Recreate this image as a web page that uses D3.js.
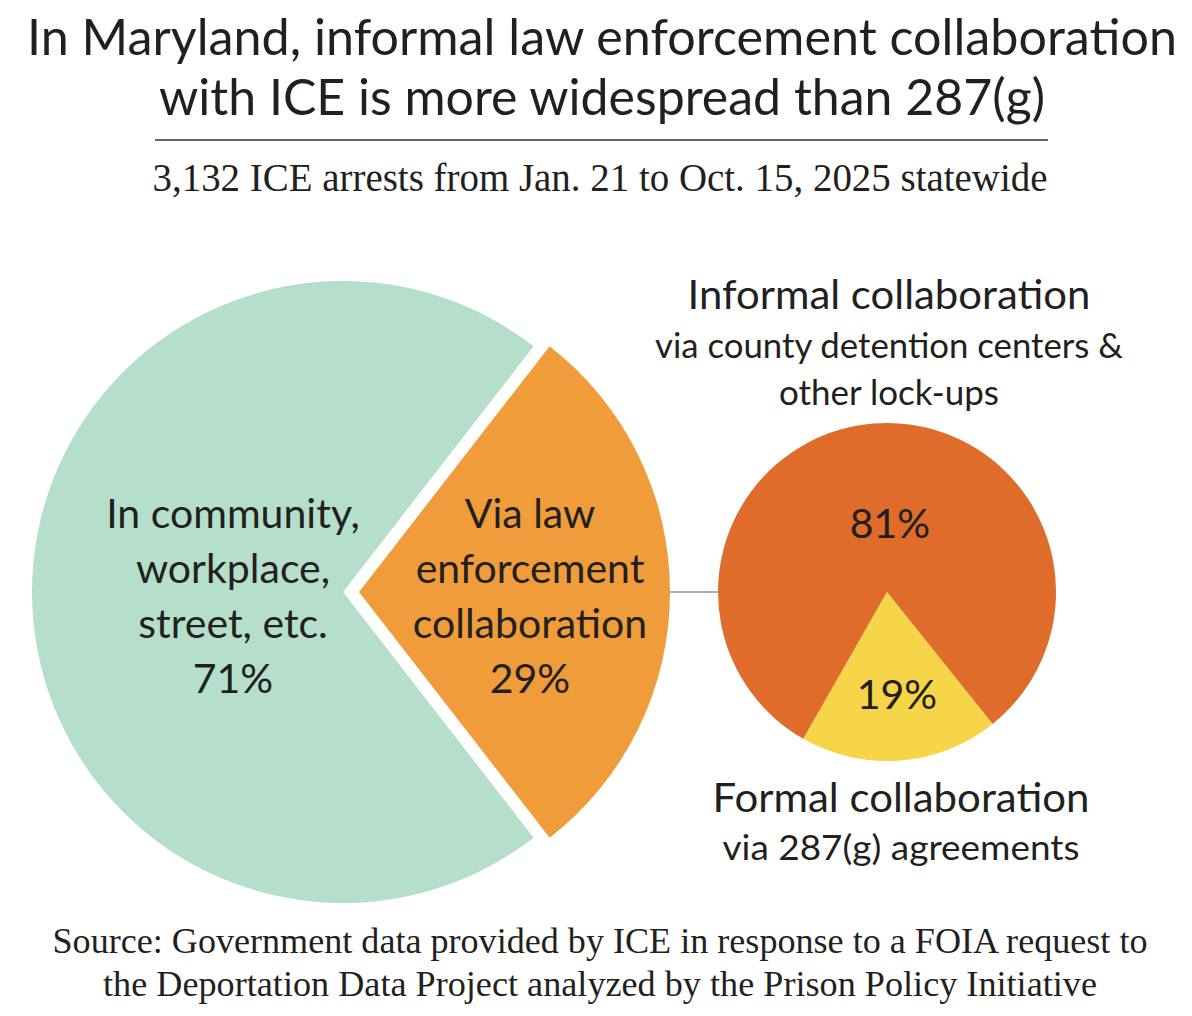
<!DOCTYPE html>
<html>
<head>
<meta charset="utf-8">
<script src="https://cdn.jsdelivr.net/npm/d3@7"></script>
<style>
  html, body { margin: 0; padding: 0; background: #fff; }
  svg { display: block; }
</style>
</head>
<body>
<div id="chart"></div>
<script>
// ---------------- data ----------------
var mainLabels = [
  ["Via law", "enforcement", "collaboration"],
  ["In community,", "workplace,", "street, etc."]
];
var mainKeys = ["law", "community"];
var mainShares = [29, 71];
var mainColors = ["#f09c3a", "#b5dfcb"];

var subKeys = ["formal", "informal"];
var subShares = [19, 81];
var subColors = ["#f6d548", "#e06c2b"];
var informalLines = ["Informal collaboration", "via county detention centers &", "other lock-ups"];
var formalLines = ["Formal collaboration", "via 287(g) agreements"];

var titleLines = ["In Maryland, informal law enforcement collaboration", "with ICE is more widespread than 287(g)"];
var subtitle = "3,132 ICE arrests from Jan. 21 to Oct. 15, 2025 statewide";
var sourceLines = [
  "Source: Government data provided by ICE in response to a FOIA request to",
  "the Deportation Data Project analyzed by the Prison Policy Initiative"
];

// ---------------- layout ----------------
var width = 1192, height = 1016;
var sans = "Lato, 'Open Sans', sans-serif";
var serif = "'Liberation Serif', 'Times New Roman', serif";
var ink = "#231f20";
var deg = Math.PI / 180;

var svg = d3.select("#chart").append("svg")
    .attr("width", width)
    .attr("height", height);

// title
svg.selectAll("text.title")
    .data(titleLines)
    .enter().append("text")
    .attr("class", "title")
    .attr("x", 602)
    .attr("y", function (d, i) { return 55 + i * 60; })
    .attr("text-anchor", "middle")
    .attr("textLength", function (d, i) { return i === 0 ? 1150 : 886; })
    .attr("lengthAdjust", "spacingAndGlyphs")
    .style("font-family", sans)
    .style("font-size", "50px")
    .style("fill", ink)
    .text(function (d) { return d; });

svg.append("line")
    .attr("x1", 155).attr("x2", 1048)
    .attr("y1", 140).attr("y2", 140)
    .style("stroke", "#666")
    .style("stroke-width", 2);

svg.append("text")
    .attr("x", 600)
    .attr("y", 191)
    .attr("text-anchor", "middle")
    .attr("textLength", 895)
    .attr("lengthAdjust", "spacingAndGlyphs")
    .style("font-family", serif)
    .style("font-size", "40px")
    .style("fill", ink)
    .text(subtitle);

// ---------------- main pie ----------------
var mainCx = 343, mainCy = 592, mainR = 311, explode = 16;
var mainStart = 90 * deg - (mainShares[0] / 100) * Math.PI;

var mainPie = d3.pie().sort(null)
    .startAngle(mainStart)
    .endAngle(mainStart + 2 * Math.PI);
var mainArc = d3.arc().innerRadius(0).outerRadius(mainR);
var mainArcs = mainPie(mainShares);

var gMain = svg.append("g")
    .attr("transform", "translate(" + mainCx + "," + mainCy + ")");

gMain.selectAll("path")
    .data(mainArcs)
    .enter().append("path")
    .attr("d", mainArc)
    .attr("transform", function (d, i) {
        if (i !== 0) return null;
        var mid = (d.startAngle + d.endAngle) / 2;
        return "translate(" + explode * Math.sin(mid) + "," + (-explode * Math.cos(mid)) + ")";
    })
    .style("fill", function (d, i) { return mainColors[i]; });

// labels in main pie
var mainLabelX = [530, 233];
mainLabels.forEach(function (lines, i) {
    var all = lines.concat([mainShares[i] + "%"]);
    svg.selectAll("text.main-" + mainKeys[i])
        .data(all)
        .enter().append("text")
        .attr("class", "main-" + mainKeys[i])
        .attr("x", mainLabelX[i])
        .attr("y", function (d, j) { return 528 + j * 55; })
        .attr("text-anchor", "middle")
        .style("font-family", sans)
        .style("font-size", "41px")
        .style("fill", ink)
        .text(function (d) { return d; });
});

// ---------------- connector ----------------
var subCx = 887, subCy = 592, subR = 169;
svg.append("line")
    .attr("x1", mainCx + explode + mainR)
    .attr("x2", subCx - subR)
    .attr("y1", mainCy).attr("y2", subCy)
    .style("stroke", "#b0b0b0")
    .style("stroke-width", 2);

// ---------------- sub pie ----------------
var subStart = 141.3 * deg;
var subPie = d3.pie().sort(null)
    .startAngle(subStart)
    .endAngle(subStart + 2 * Math.PI);
var subArc = d3.arc().innerRadius(0).outerRadius(subR);

var gSub = svg.append("g")
    .attr("transform", "translate(" + subCx + "," + subCy + ")");

gSub.selectAll("path")
    .data(subPie(subShares))
    .enter().append("path")
    .attr("d", subArc)
    .style("fill", function (d, i) { return subColors[i]; });

gSub.selectAll("text.pct")
    .data(subShares)
    .enter().append("text")
    .attr("class", "pct")
    .attr("x", function (d, i) { return i === 0 ? 10 : 3; })
    .attr("y", function (d, i) { return i === 0 ? 117 : -54; })
    .attr("text-anchor", "middle")
    .style("font-family", sans)
    .style("font-size", "41px")
    .style("fill", ink)
    .text(function (d) { return d + "%"; });

// side labels
svg.selectAll("text.informal")
    .data(informalLines)
    .enter().append("text")
    .attr("class", "informal")
    .attr("x", 889)
    .attr("y", function (d, i) { return [309, 358, 405][i]; })
    .attr("text-anchor", "middle")
    .attr("textLength", function (d, i) { return [403, 468, 220][i]; })
    .attr("lengthAdjust", "spacingAndGlyphs")
    .style("font-family", sans)
    .style("font-size", function (d, i) { return i === 0 ? "41px" : "34px"; })
    .style("fill", ink)
    .text(function (d) { return d; });

svg.selectAll("text.formal")
    .data(formalLines)
    .enter().append("text")
    .attr("class", "formal")
    .attr("x", 901)
    .attr("y", function (d, i) { return [812, 860][i]; })
    .attr("text-anchor", "middle")
    .attr("textLength", function (d, i) { return [377, 357][i]; })
    .attr("lengthAdjust", "spacingAndGlyphs")
    .style("font-family", sans)
    .style("font-size", function (d, i) { return i === 0 ? "41px" : "34px"; })
    .style("fill", ink)
    .text(function (d) { return d; });

// ---------------- source ----------------
svg.selectAll("text.source")
    .data(sourceLines)
    .enter().append("text")
    .attr("class", "source")
    .attr("x", 600)
    .attr("y", function (d, i) { return 953 + i * 43; })
    .attr("text-anchor", "middle")
    .attr("textLength", function (d, i) { return i === 0 ? 1095 : 994; })
    .attr("lengthAdjust", "spacingAndGlyphs")
    .style("font-family", serif)
    .style("font-size", "36px")
    .style("fill", ink)
    .text(function (d) { return d; });
</script>
</body>
</html>
